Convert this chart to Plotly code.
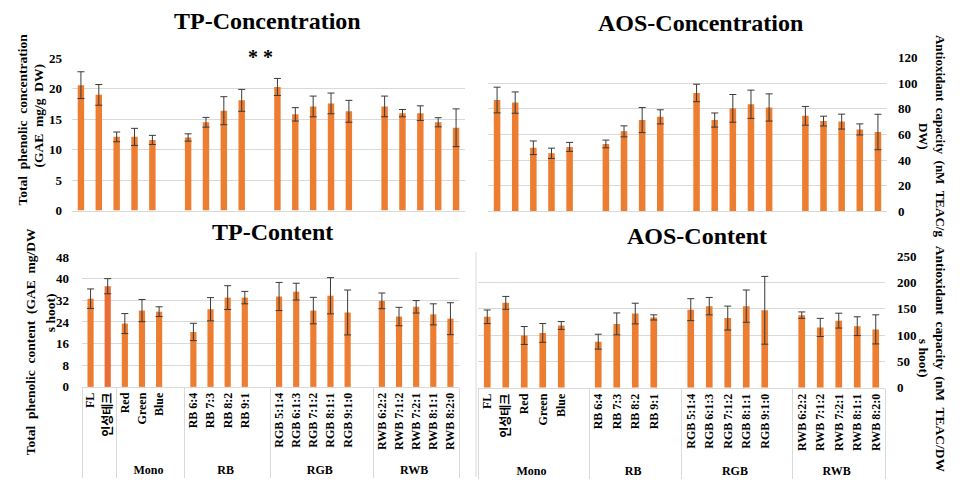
import plotly.graph_objects as go

# ---------------- data ----------------
treatments = ["FL", "인성테크", "Red", "Green", "Blue",
              "RB 6:4", "RB 7:3", "RB 8:2", "RB 9:1",
              "RGB 5:1:4", "RGB 6:1:3", "RGB 7:1:2", "RGB 8:1:1", "RGB 9:1:0",
              "RWB 6:2:2", "RWB 7:1:2", "RWB 7:2:1", "RWB 8:1:1", "RWB 8:2:0"]

# grouping used by the left-hand charts (FL / 인성테크 in an unnamed group)
groups_left = [" ", " ", "Mono", "Mono", "Mono",
               "RB", "RB", "RB", "RB",
               "RGB", "RGB", "RGB", "RGB", "RGB",
               "RWB", "RWB", "RWB", "RWB", "RWB"]
# grouping used by the right-hand charts (FL / 인성테크 inside Mono)
groups_right = ["Mono", "Mono", "Mono", "Mono", "Mono",
                "RB", "RB", "RB", "RB",
                "RGB", "RGB", "RGB", "RGB", "RGB",
                "RWB", "RWB", "RWB", "RWB", "RWB"]
# an empty slot closes these groups (each with its own blank label)
gap_after = {"Blue": " ", "RB 9:1": "  ", "RGB 9:1:0": "   "}

tp_conc = [20.6, 19.0, 12.1, 12.1, 11.6, 12.0, 14.5, 16.4, 18.1,
           20.3, 15.8, 17.1, 17.6, 16.3, 17.1, 16.0, 16.0, 14.5, 13.6]
tp_conc_err = [2.2, 1.7, 0.8, 1.4, 0.75, 0.6, 0.8, 2.3, 1.8,
               1.4, 1.1, 1.7, 1.7, 1.8, 1.7, 0.6, 1.2, 0.75, 3.1]

aos_conc = [86.8, 84.8, 49.6, 45.3, 50.3, 52.6, 62.4, 71.2, 73.7,
            92.3, 71.2, 80.3, 83.5, 81.0, 74.5, 70.4, 70.0, 63.9, 61.9]
aos_conc_err = [10.0, 8.3, 5.3, 4.0, 3.5, 3.0, 4.3, 9.8, 5.5,
                6.8, 5.5, 10.8, 11.0, 10.6, 7.3, 3.8, 5.8, 4.3, 13.8]

tp_cont = [32.6, 37.2, 23.4, 28.2, 27.8, 20.3, 28.7, 33.0, 33.0,
           33.4, 35.2, 28.2, 33.7, 27.5, 31.8, 26.0, 29.6, 26.8, 25.2]
tp_cont_err = [3.6, 2.8, 3.7, 4.1, 1.8, 3.2, 4.3, 4.4, 2.3,
               5.2, 3.1, 4.9, 6.7, 8.3, 2.9, 3.4, 2.3, 3.9, 5.9]

aos_cont = [134.8, 161.2, 99.3, 104.2, 118.3, 87.6, 121.3, 140.9, 133.6,
            148.3, 155.0, 132.4, 155.0, 147.1, 137.9, 114.6, 127.5, 117.0, 110.9]
aos_cont_err = [12.9, 12.2, 17.0, 17.8, 7.4, 14.1, 20.8, 19.6, 4.9,
                20.8, 16.5, 22.7, 30.6, 64.3, 6.1, 17.2, 14.1, 17.8, 27.6]

tp_conc_ticks = [0, 5, 10, 15, 20, 25]
aos_conc_ticks = [0, 20, 40, 60, 80, 100, 120]
tp_cont_ticks = [0, 8, 16, 24, 32, 40, 48]
aos_cont_ticks = [0, 50, 100, 150, 200, 250]

# ---------------- helpers ----------------
W, H = 968, 485
BAR = "#ED7D31"
BAR_HI = "#EC6C35"
GRID = "#D9D9D9"
FONT = "Liberation Serif, Times New Roman, Noto Sans CJK KR, serif"
ERRC = "#3A3A3A"


def px(x):
    return x / W


def py(y):
    return 1 - y / H


def slotted(groups, vals, fill=None):
    g_out, c_out, v_out = [], [], []
    for g, c, v in zip(groups, treatments, vals):
        g_out.append(g); c_out.append(c); v_out.append(v)
        if c in gap_after:
            g_out.append(g); c_out.append(gap_after[c]); v_out.append(fill)
    return g_out, c_out, v_out


def add_bars(fig, groups, vals, errs, xa, ya, colors=None):
    g, c, v = slotted(groups, vals)
    _, _, e = slotted(groups, errs)
    col = slotted(groups, colors, BAR)[2] if colors else BAR
    fig.add_trace(go.Bar(
        x=[g, c], y=v, xaxis=xa, yaxis=ya, width=0.36,
        marker=dict(color=col, line=dict(width=0)),
        error_y=dict(type="data", array=e, color=ERRC, thickness=1, width=3.5),
        showlegend=False, hoverinfo="skip"))


fig = go.Figure()
add_bars(fig, groups_left, tp_conc, tp_conc_err, "x", "y")
add_bars(fig, groups_right, aos_conc, aos_conc_err, "x2", "y2")
cont_colors = [BAR_HI if t == "인성테크" else BAR for t in treatments]
add_bars(fig, groups_left, tp_cont, tp_cont_err, "x3", "y3", cont_colors)
add_bars(fig, groups_right, aos_cont, aos_cont_err, "x4", "y4")

tickfont = dict(family=FONT, size=13, color="#000000", weight="bold")
catfont = dict(family=FONT, size=12, color="#000000", weight="bold")


def xaxis(x0, x1, anchor, labels):
    return dict(domain=[px(x0), px(x1)], anchor=anchor, type="multicategory",
                showticklabels=labels, showdividers=labels, dividercolor=GRID,
                dividerwidth=1, tickangle=-90, tickfont=catfont, ticks="",
                showline=True, linecolor=GRID, linewidth=1, showgrid=False,
                zeroline=False, fixedrange=True)


def yaxis(y0, y1, anchor, rng, ticks, side, standoff):
    return dict(domain=[py(y0), py(y1)], anchor=anchor, range=rng,
                tickvals=ticks, ticktext=[str(t) for t in ticks],
                showgrid=True, gridcolor=GRID, gridwidth=1, zeroline=False,
                showline=False, ticks="", side=side, tickfont=tickfont,
                ticklabelstandoff=standoff, fixedrange=True)


fig.update_layout(
    width=W, height=H, margin=dict(l=0, r=0, t=0, b=0),
    paper_bgcolor="white", plot_bgcolor="white",
    xaxis=xaxis(72, 465, "y", False),
    yaxis=yaxis(210, 53, "x", [0, 25], tp_conc_ticks, "left", 9),
    xaxis2=xaxis(488, 887, "y2", False),
    yaxis2=yaxis(211, 52, "x2", [0, 120], aos_conc_ticks, "right", 10),
    xaxis3=xaxis(82, 459, "y3", True),
    yaxis3=yaxis(392, 258, "x3", [0, 48], tp_cont_ticks, "left", 12),
    xaxis4=xaxis(478, 885, "y4", True),
    yaxis4=yaxis(393, 257, "x4", [0, 250], aos_cont_ticks, "right", 11),
    shapes=[dict(type="line", xref="paper", yref="paper",
                 x0=px(476), x1=px(476), y0=py(253), y1=py(485),
                 line=dict(color=GRID, width=1))],
)

ann = []


def text(x, y, s, size, angle=0):
    ann.append(dict(x=px(x), y=py(y), xref="paper", yref="paper", text=s,
                    showarrow=False, textangle=angle, xanchor="center",
                    yanchor="middle",
                    font=dict(family=FONT, size=size, color="#000000",
                              weight="bold")))


# chart titles
text(267, 14, "TP-Concentration", 24)
text(700, 17, "AOS-Concentration", 24)
text(272, 232, "TP-Content", 24)
text(697, 236, "AOS-Content", 24)
# significance mark
text(260, 52, "* *", 20)

# y-axis titles
text(22, 116, "Total  phenolic  concentration", 13.5, -90)
text(39, 112, "(GAE  mg/g  DW)", 13.5, -90)
text(940, 133, "Antioxidant  capacity  (nM  TEAC/g", 13, 90)
text(923, 133, "DW)", 13, 90)
text(30, 346, "Total  phenolic  content  (GAE  mg/DW", 13.5, -90)
text(50, 316, "s hoot)", 13.5, -90)
text(940, 363, "Antioxidant  capacity  (nM  TEAC/DW", 13.5, 90)
text(923, 362, "s hoot)", 13.5, 90)

fig.update_layout(annotations=ann)
fig.write_html("out.html", config={"displayModeBar": False},
               post_script="document.body.style.margin='0px';"
                           "document.body.style.overflow='hidden';")
